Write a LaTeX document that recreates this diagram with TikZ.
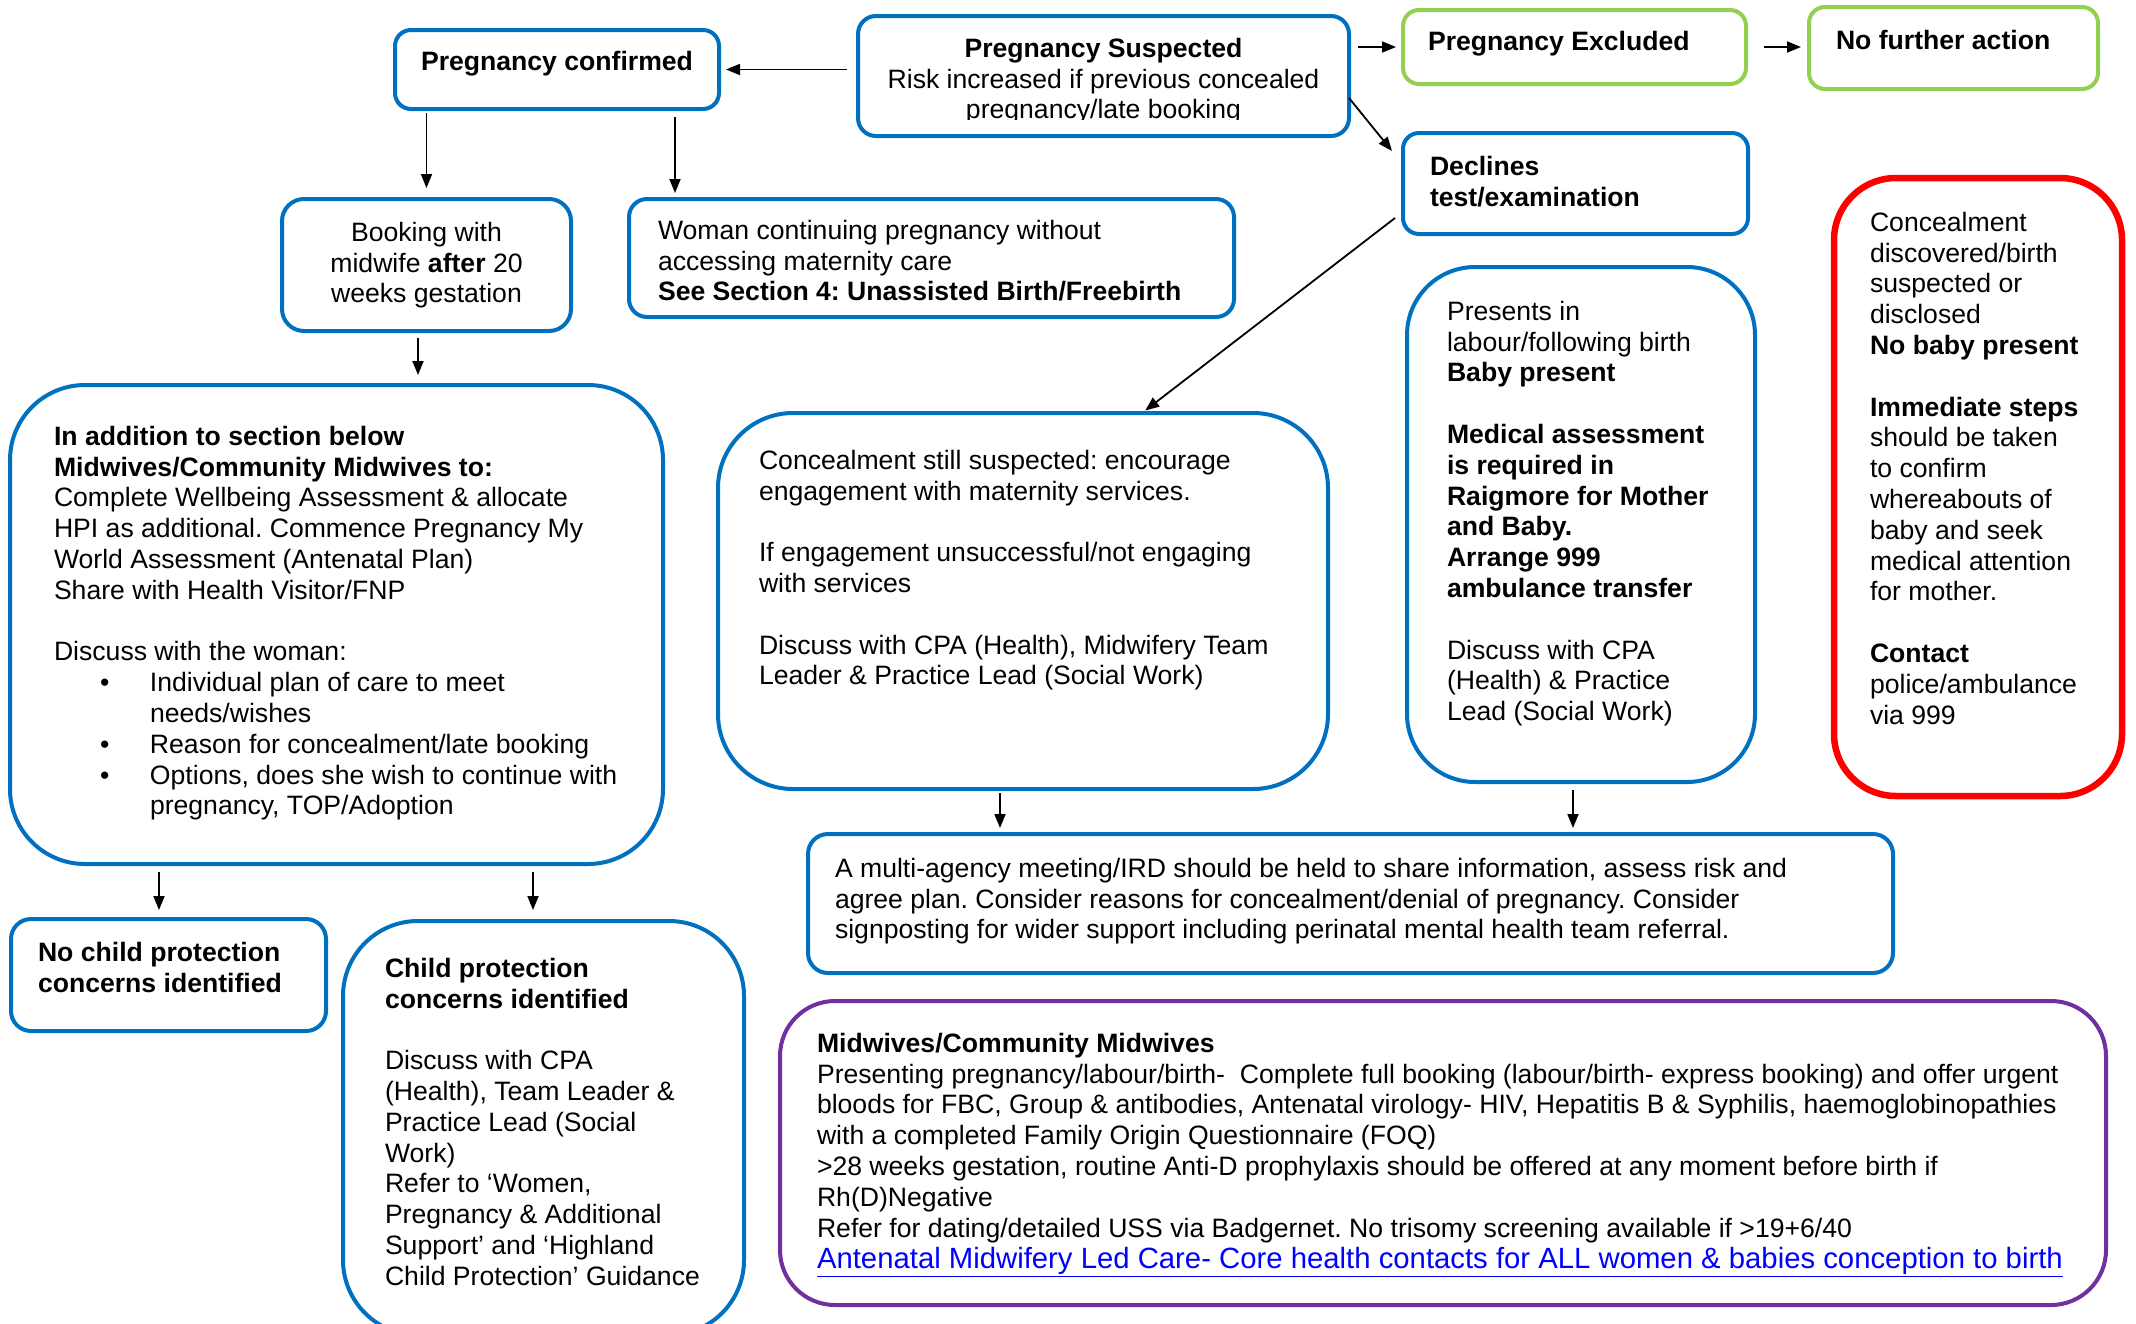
\documentclass[tikz,border=0pt]{standalone}
\usepackage{fontspec}
\setmainfont{Liberation Sans}
\usetikzlibrary{arrows.meta}
\definecolor{boxblue}{HTML}{0070C0}
\definecolor{boxgreen}{HTML}{92D050}
\definecolor{boxred}{HTML}{FF0000}
\definecolor{boxpurple}{HTML}{7030A0}
\definecolor{linkblue}{HTML}{0000FF}
\frenchspacing
\tikzset{
  box/.style={draw=boxblue, line width=4pt, rectangle, inner sep=0pt, outer sep=0pt, fill=none},
  greenbox/.style={box, draw=boxgreen},
  redbox/.style={box, draw=boxred, line width=6.5pt},
  purplebox/.style={box, draw=boxpurple},
  txt/.style={inner sep=0pt, outer sep=0pt, align=left, anchor=north west,
    font=\fontsize{26.6}{30.8}\selectfont\frenchspacing},
  ctxt/.style={txt, align=center, anchor=north},
  arr/.style={line width=1.8pt, -{Triangle[length=14pt,width=11pt]}},
}
\begin{document}
\begin{tikzpicture}[x=1pt,y=-1pt]
\clip (0,0) rectangle (2136,1323);
\fill[white] (0,0) rectangle (2136,1323);

% boxes
\node[box, rounded corners=16pt, minimum width=324pt, minimum height=79pt] (conf) at (557,69.5) {};
\node[box, rounded corners=18pt, minimum width=491pt, minimum height=120pt] (susp) at (1103.5,76) {};
\node[greenbox, rounded corners=16pt, minimum width=343pt, minimum height=74pt] (excl) at (1574.5,47) {};
\node[greenbox, rounded corners=16pt, minimum width=289pt, minimum height=82pt] (nfa) at (1953.5,48) {};
\node[box, rounded corners=16pt, minimum width=345pt, minimum height=101pt] (decl) at (1575.5,183.5) {};
\node[box, rounded corners=22pt, minimum width=289pt, minimum height=132pt] (book) at (426.5,265) {};
\node[box, rounded corners=18pt, minimum width=605pt, minimum height=118pt] (woman) at (931.5,258) {};
\node[box, rounded corners=75pt, minimum width=653pt, minimum height=479pt] (big) at (336.5,624.5) {};
\node[box, rounded corners=75pt, minimum width=610pt, minimum height=376pt] (conc) at (1023,601) {};
\node[box, rounded corners=68pt, minimum width=348pt, minimum height=515pt] (pres) at (1581,524.5) {};
\node[redbox, rounded corners=62pt, minimum width=288pt, minimum height=618pt] (red) at (1978,487) {};
\node[box, rounded corners=20pt, minimum width=1085pt, minimum height=139pt] (multi) at (1350.5,903.5) {};
\node[box, rounded corners=20pt, minimum width=315pt, minimum height=112pt] (nochild) at (168.5,975) {};
\node[box, rounded corners=75pt, minimum width=401pt, minimum height=414pt] (child) at (543.5,1128) {};
\node[purplebox, rounded corners=55pt, minimum width=1326pt, minimum height=304pt] (purple) at (1443,1153) {};

% texts
\node[ctxt] (tconf) at (557,51) {\textbf{Pregnancy confirmed}};
\begin{scope}
\clip (858,16) rectangle (1349,119.5);
\node[ctxt] (tsusp) at (1103.5,38) {\textbf{Pregnancy Suspected}\\Risk increased if previous concealed\\pregnancy/late booking};
\end{scope}
\node[txt] (texcl) at (1428,31) {\textbf{Pregnancy Excluded}};
\node[txt] (tnfa) at (1836,30) {\textbf{No further action}};
\node[txt] (tdecl) at (1430,156) {\textbf{Declines}\\\textbf{test/examination}};
\node[ctxt] (tbook) at (426.5,222) {Booking with\\midwife \textbf{after} 20\\weeks gestation};
\node[txt] (twoman) at (658,220) {Woman continuing pregnancy without\\accessing maternity care\\\textbf{See Section 4: Unassisted Birth/Freebirth}};
\node[txt] (tbig) at (54,426) {\textbf{In addition to section below}\\
\textbf{Midwives/Community Midwives to:}\\
Complete Wellbeing Assessment \& allocate\\
HPI as additional. Commence Pregnancy My\\
World Assessment (Antenatal Plan)\\
Share with Health Visitor/FNP\\[30.8pt]
Discuss with the woman:\\
\makebox[96pt][l]{\hspace*{46pt}\textbullet}Individual plan of care to meet\\
\hspace*{96pt}needs/wishes\\
\makebox[96pt][l]{\hspace*{46pt}\textbullet}Reason for concealment/late booking\\
\makebox[96pt][l]{\hspace*{46pt}\textbullet}Options, does she wish to continue with\\
\hspace*{96pt}pregnancy, TOP/Adoption};
\node[txt] (tconc) at (759,450) {Concealment still suspected: encourage\\
engagement with maternity services.\\[30.8pt]
If engagement unsuccessful/not engaging\\
with services\\[30.8pt]
Discuss with CPA (Health), Midwifery Team\\
Leader \& Practice Lead (Social Work)};
\node[txt] (tpres) at (1447,301) {Presents in\\
labour/following birth\\
\textbf{Baby present}\\[30.8pt]
\textbf{Medical assessment}\\
\textbf{is required in}\\
\textbf{Raigmore for Mother}\\
\textbf{and Baby.}\\
\textbf{Arrange 999}\\
\textbf{ambulance transfer}\\[30.8pt]
Discuss with CPA\\
(Health) \& Practice\\
Lead (Social Work)};
\node[txt] (tred) at (1870,212) {Concealment\\
discovered/birth\\
suspected or\\
disclosed\\
\textbf{No baby present}\\[30.8pt]
\textbf{Immediate steps}\\
should be taken\\
to confirm\\
whereabouts of\\
baby and seek\\
medical attention\\
for mother.\\[30.8pt]
\textbf{Contact}\\
police/ambulance\\
via 999};
\node[txt] (tmulti) at (835,858) {A multi-agency meeting/IRD should be held to share information, assess risk and\\
agree plan. Consider reasons for concealment/denial of pregnancy. Consider\\
signposting for wider support including perinatal mental health team referral.};
\node[txt] (tnochild) at (38,942) {\textbf{No child protection}\\\textbf{concerns identified}};
\node[txt] (tchild) at (385,958) {\textbf{Child protection}\\
\textbf{concerns identified}\\[30.8pt]
Discuss with CPA\\
(Health), Team Leader \&\\
Practice Lead (Social\\
Work)\\
Refer to ‘Women,\\
Pregnancy \& Additional\\
Support’ and ‘Highland\\
Child Protection’ Guidance};
\node[txt] (tpurple) at (817,1033) {\textbf{Midwives/Community Midwives}\\
Presenting pregnancy/labour/birth-\ \ Complete full booking (labour/birth- express booking) and offer urgent\\
bloods for FBC, Group \& antibodies, Antenatal virology- HIV, Hepatitis B \& Syphilis, haemoglobinopathies\\
with a completed Family Origin Questionnaire (FOQ)\\
>28 weeks gestation, routine Anti-D prophylaxis should be offered at any moment before birth if\\
Rh(D)Negative\\
Refer for dating/detailed USS via Badgernet. No trisomy screening available if >19+6/40\\[1pt]
{\fontsize{29.3}{30.8}\selectfont\color{linkblue}\underline{Antenatal Midwifery Led Care- Core health contacts for ALL women \& babies conception to birth}}};

% connectors
\draw[arr, shorten <=11pt, shorten >=7pt] (susp.west |- conf.east) -- (conf.east);
\draw[arr, shorten <=9pt, shorten >=7pt] (susp.east |- excl.west) -- (excl.west);
\draw[arr, shorten <=18pt, shorten >=8pt] (excl.east) -- (nfa.west |- excl.east);
\draw[arr] ([yshift=-22pt]susp.east) -- ([xshift=-11pt,yshift=32.5pt]decl.west);
\draw[arr, shorten <=4pt, shorten >=11pt] (conf.south -| book.north) -- (book.north);
\draw[arr, shorten <=8pt, shorten >=6pt] ([xshift=118pt]conf.south) -- ([xshift=-256.5pt]woman.north);
\draw[arr, shorten <=7pt, shorten >=10pt] ([xshift=-8.5pt]book.south) -- ([xshift=81.5pt]big.north);
\draw[arr, shorten >=4pt] ([xshift=-8pt,yshift=-34.5pt]decl.west) -- ([xshift=119pt]conc.north);
\draw[arr, shorten <=8pt, shorten >=9pt] ([xshift=-177.5pt]big.south) -- ([xshift=-9.5pt]nochild.north);
\draw[arr, shorten <=8pt, shorten >=11pt] ([xshift=196.5pt]big.south) -- ([xshift=-10.5pt]child.north);
\draw[arr, shorten <=4pt, shorten >=6pt] ([xshift=-23pt]conc.south) -- ([xshift=-350.5pt]multi.north);
\draw[arr, shorten <=8pt, shorten >=6pt] ([xshift=-8pt]pres.south) -- ([xshift=222.5pt]multi.north);
\end{tikzpicture}
\end{document}
